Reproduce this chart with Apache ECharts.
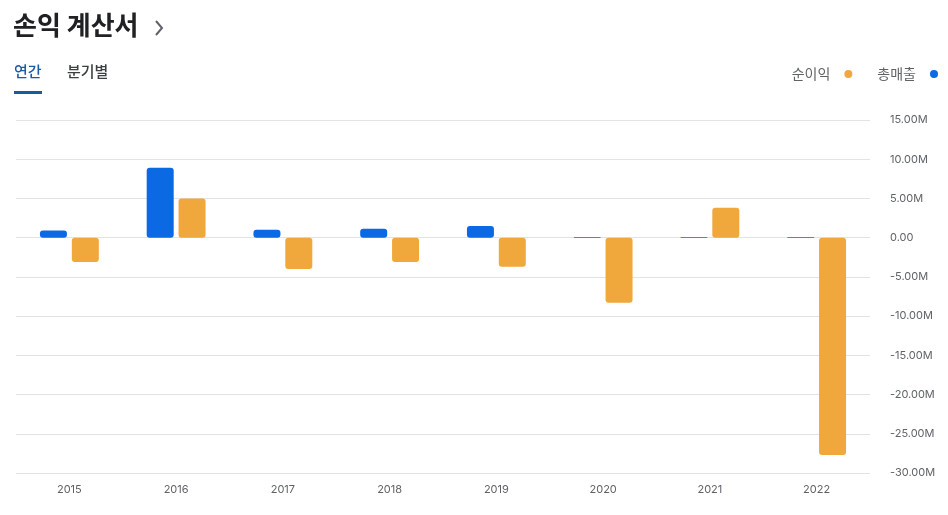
<!DOCTYPE html>
<html><head><meta charset="utf-8">
<script src="https://cdn.jsdelivr.net/npm/echarts@6/dist/echarts.min.js"></script>
<style>html,body{margin:0;padding:0;background:#fff}#c{width:948px;height:515px}</style>
</head><body><div id="c"></div>
<script>
const years = ['2015','2016','2017','2018','2019','2020','2021','2022'];
const revenue = [0.9e6, 8.9e6, 1.0e6, 1.15e6, 1.5e6, 0.1e6, 0.1e6, 0.1e6];
const netIncome = [-3.1e6, 5.0e6, -4.0e6, -3.1e6, -3.7e6, -8.3e6, 3.8e6, -27.7e6];
const seriesNames = ['총매출', '순이익'];
const legendOrder = ['순이익', '총매출'];

const font = "Inter, 'Noto Sans CJK KR', sans-serif";
const chart = echarts.init(document.getElementById('c'));
chart.setOption({
  animation: false,
  textStyle: { fontFamily: font },
  graphic: [
    { type: 'text', left: 13, top: 12, style: { text: '손익 계산서', font: "bold 26px 'Noto Sans CJK KR'", fill: '#202124' } },
    { type: 'polyline', shape: { points: [[156, 21], [162, 28], [156, 35]] }, style: { stroke: '#5f6368', lineWidth: 2, fill: null } },
    { type: 'text', left: 14, top: 64, style: { text: '연간', font: "500 15px 'Noto Sans CJK KR'", fill: '#1a5ba6' } },
    { type: 'text', left: 67, top: 64, style: { text: '분기별', font: "500 15px 'Noto Sans CJK KR'", fill: '#3c4043' } },
    { type: 'rect', shape: { x: 14, y: 91, width: 28, height: 3 }, style: { fill: '#1a5ba6' } }
  ],
  legend: {
    data: legendOrder,
    right: 5, top: 62,
    align: 'right',
    icon: 'circle',
    itemWidth: 8, itemHeight: 8,
    itemGap: 25,
    textStyle: { color: '#5f6368', fontSize: 14, fontFamily: "'Noto Sans CJK KR'", padding: [0, 9, 0, 0] }
  },
  grid: { left: 16, right: 78, top: 120, bottom: 42 },
  xAxis: {
    type: 'category', data: years,
    axisLine: { show: false }, axisTick: { show: false },
    axisLabel: { color: '#5f6368', fontSize: 11, margin: 11 }
  },
  yAxis: {
    type: 'value', position: 'right', min: -30e6, max: 15e6, interval: 5e6,
    axisLine: { show: false }, axisTick: { show: false },
    splitLine: { lineStyle: { color: '#e3e3e3' } },
    axisLabel: {
      color: '#5f6368', fontSize: 11, margin: 20,
      formatter: v => (v / 1e6).toFixed(2) + (v === 0 ? '' : 'M')
    }
  },
  series: [
    { name: seriesNames[0], type: 'bar', data: revenue, barWidth: 27, barGap: '18%',
      itemStyle: { color: '#0b69e3', borderRadius: 3 } },
    { name: seriesNames[1], type: 'bar', data: netIncome, barWidth: 27,
      itemStyle: { color: '#f0a83c', borderRadius: 3 } }
  ]
});
</script></body></html>
